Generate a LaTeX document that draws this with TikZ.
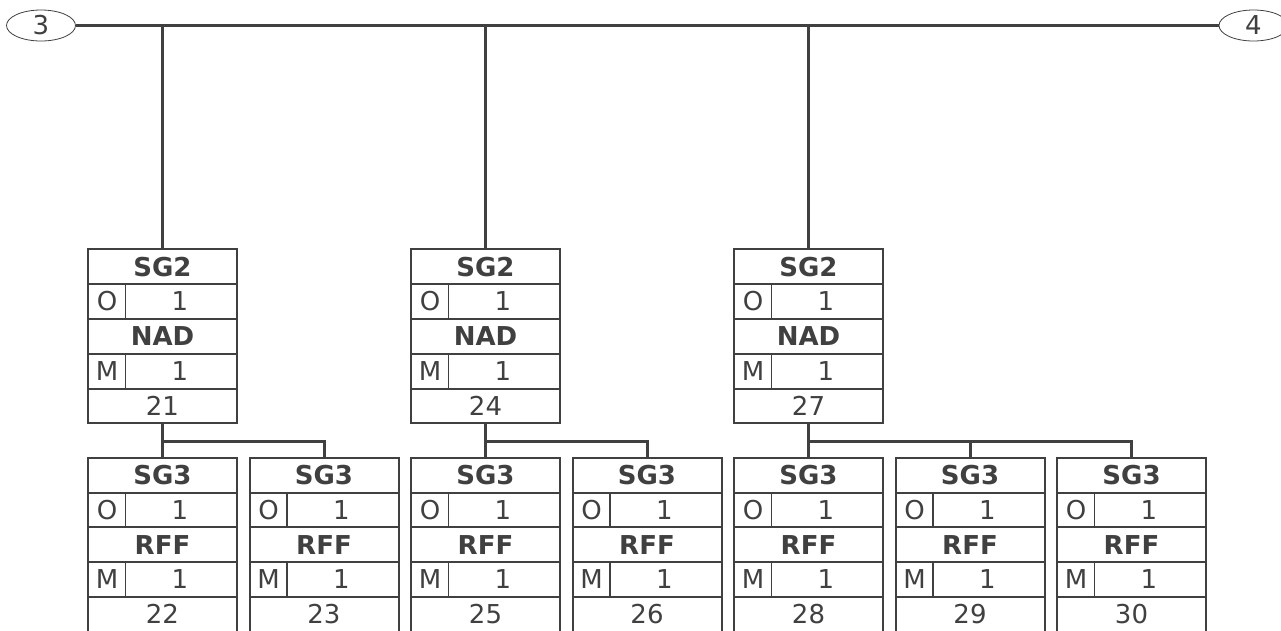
\documentclass[tikz,border=0pt]{standalone}
\usepackage{fontspec}
\setmainfont{DejaVu Sans}
\usetikzlibrary{shapes.geometric}
\definecolor{ink}{HTML}{404040}
\tikzset{
  rowbox/.style={draw=ink, line width=2pt, minimum width=149pt, minimum height=34.8pt,
    inner sep=0pt, text=ink, font=\fontsize{26}{30}\selectfont},
  celltext/.style={inner sep=0pt, text=ink, font=\fontsize{26}{30}\selectfont},
  divider/.style={draw=ink, line width=1.5pt},
  bus/.style={draw=ink, line width=3pt},
  oval/.style={ellipse, draw=ink, line width=0.8pt, minimum width=69pt, minimum height=31pt,
    inner sep=0pt, text=ink, font=\fontsize{26}{30}\selectfont}
}
% #1 name, #2 centre x, #3 top y, #4 group, #5 segment, #6 number
\newcommand\segbox[6]{%
  \node[rowbox] (#1) at (#2,#3+17.4) {\bfseries #4};
  \node[rowbox] (#1-a) at (#2,#3+52.2) {};
  \node[celltext] (#1-as) at (#2-55.5,#3+52.2) {O};
  \node[celltext] (#1-ar) at (#2+17.5,#3+52.2) {1};
  \draw[divider] (#2-36.8,#3+34.8) -- (#2-36.8,#3+69.6);
  \node[rowbox] (#1-n) at (#2,#3+87) {\bfseries #5};
  \node[rowbox] (#1-b) at (#2,#3+121.8) {};
  \node[celltext] (#1-bs) at (#2-55.5,#3+121.8) {M};
  \node[celltext] (#1-br) at (#2+17.5,#3+121.8) {1};
  \draw[divider] (#2-36.8,#3+104.4) -- (#2-36.8,#3+139.2);
  \node[rowbox] (#1-p) at (#2,#3+156.6) {#6};
}
\begin{document}
\begin{tikzpicture}[x=1pt,y=-1pt]
\clip (0,0) rectangle (1281,630);
\fill[white] (0,0) rectangle (1281,630);
\node[oval] (o3) at (41,25.5) {3};
\node[oval] (o4) at (1253.5,25.5) {4};
\draw[bus] (o3.east) -- (o4.west);

\segbox{g1}{162.5}{249.3}{SG2}{NAD}{21}
\segbox{g2}{485.5}{249.3}{SG2}{NAD}{24}
\segbox{g3}{808.5}{249.3}{SG2}{NAD}{27}

\segbox{c1}{162.5}{457.7}{SG3}{RFF}{22}
\segbox{c2}{324}{457.7}{SG3}{RFF}{23}
\segbox{c3}{485.5}{457.7}{SG3}{RFF}{25}
\segbox{c4}{647}{457.7}{SG3}{RFF}{26}
\segbox{c5}{808.5}{457.7}{SG3}{RFF}{28}
\segbox{c6}{970}{457.7}{SG3}{RFF}{29}
\segbox{c7}{1131.5}{457.7}{SG3}{RFF}{30}

\foreach \g in {g1,g2,g3} {
  \draw[bus] (\g.north) -- (\g.north |- o3.east);
}
\coordinate (j1) at ([yshift=-17pt]g1-p.south);
\coordinate (j2) at ([yshift=-17pt]g2-p.south);
\coordinate (j3) at ([yshift=-17pt]g3-p.south);
\draw[bus] (g1-p.south) -- (j1) -- (c1.north);
\draw[bus] (j1) -| (c2.north);
\draw[bus] (g2-p.south) -- (j2) -- (c3.north);
\draw[bus] (j2) -| (c4.north);
\draw[bus] (g3-p.south) -- (j3) -- (c5.north);
\draw[bus] (j3) -| (c6.north);
\draw[bus] (j3) -| (c7.north);
\end{tikzpicture}
\end{document}
